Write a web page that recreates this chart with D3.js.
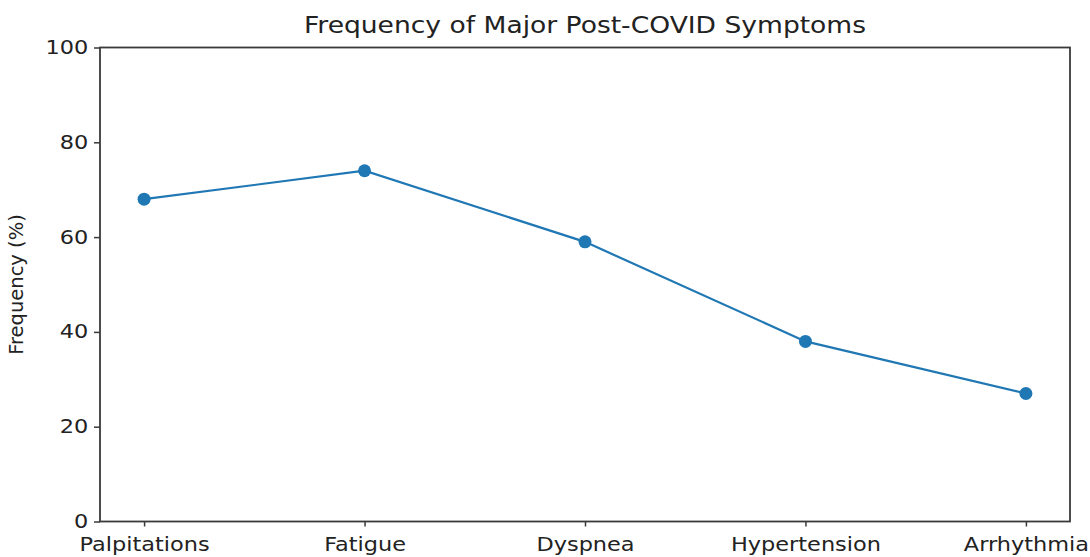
<!DOCTYPE html>
<html>
<head>
<meta charset="utf-8">
<script src="https://cdn.jsdelivr.net/npm/d3@7"></script>
<style>
  html, body { margin: 0; padding: 0; background: #fff; }
  svg { display: block; font-family: "DejaVu Sans", sans-serif; }
</style>
</head>
<body>
<svg id="chart" width="1090" height="557"></svg>
<script>
const categories = ["Palpitations", "Fatigue", "Dyspnea", "Hypertension", "Arrhythmia"];
const frequencies = [68, 74, 59, 38, 27];
const yTicks = [0, 20, 40, 60, 80, 100];
const titleText = "Frequency of Major Post-COVID Symptoms";
const yLabel = "Frequency (%)";

const svg = d3.select("#chart");
const pLeft = 100, pRight = 1070, pTop = 47.5, pBottom = 521.5;
const sx = 1.18; // horizontal stretch of text in the reference

const x = d3.scaleLinear().domain([-0.2, categories.length - 1 + 0.2]).range([pLeft, pRight]);
const y = d3.scaleLinear().domain([0, 100]).range([pBottom, pTop]);

// frame
svg.append("rect")
  .attr("x", pLeft).attr("y", pTop)
  .attr("width", pRight - pLeft).attr("height", pBottom - pTop)
  .attr("fill", "none").attr("stroke", "#3a3a3a").attr("stroke-width", 1.8);

// y axis
const yAxis = d3.axisLeft(y).tickValues(yTicks).tickSize(6).tickPadding(4);
const gy = svg.append("g").attr("transform", `translate(${pLeft},0)`).call(yAxis);
gy.select(".domain").remove();
gy.selectAll("line").attr("stroke", "#3a3a3a").attr("stroke-width", 1.5);
gy.selectAll("text").attr("font-size", 19).attr("fill", "#222").attr("font-family", "DejaVu Sans")
  .attr("transform", `scale(${sx},1)`);

// x axis
const xAxis = d3.axisBottom(x).tickValues(d3.range(categories.length))
  .tickFormat(i => categories[i]).tickSize(5).tickPadding(11);
const gx = svg.append("g").attr("transform", `translate(0,${pBottom})`).call(xAxis);
gx.select(".domain").remove();
gx.selectAll("line").attr("stroke", "#3a3a3a").attr("stroke-width", 1.5);
gx.selectAll("text").attr("font-size", 19).attr("fill", "#222").attr("font-family", "DejaVu Sans")
  .attr("transform", `scale(${sx},1)`);

// line
const line = d3.line().x((d, i) => x(i)).y(d => y(d));
svg.append("path").datum(frequencies)
  .attr("d", line).attr("fill", "none")
  .attr("stroke", "#1f77b4").attr("stroke-width", 2.2);

svg.selectAll("circle.pt").data(frequencies).enter().append("circle")
  .attr("class", "pt")
  .attr("cx", (d, i) => x(i)).attr("cy", d => y(d)).attr("r", 6.5)
  .attr("fill", "#1f77b4");

// title
svg.append("text")
  .attr("transform", `translate(${(pLeft + pRight) / 2},33) scale(${sx},1)`)
  .attr("text-anchor", "middle").attr("font-size", 22.5).attr("fill", "#222")
  .text(titleText);

// y label
svg.append("text")
  .attr("transform", `translate(23,${(pTop + pBottom) / 2}) rotate(-90)`)
  .attr("text-anchor", "middle").attr("font-size", 19.5).attr("fill", "#222")
  .text(yLabel);
</script>
</body>
</html>
